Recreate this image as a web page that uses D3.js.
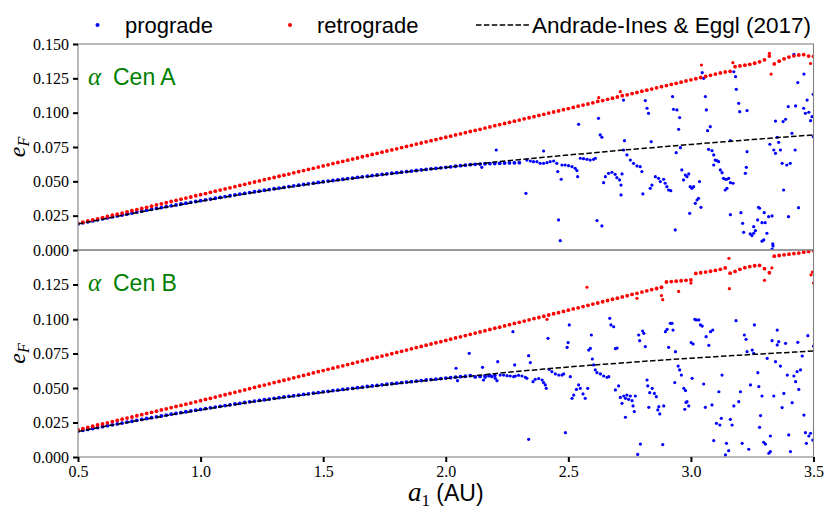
<!DOCTYPE html>
<html lang="en">
  <head>
    <meta charset="UTF-8" />
    <title>forced eccentricity - alpha Cen</title>
    <script src="https://d3js.org/d3.v7.min.js" charset="utf-8"></script>
    <style>
      body { margin: 0; background: #fff; }
      svg { display: block; }
    </style>
  </head>
  <body>
    <svg class="chart"></svg>
    <script>
      // a1 grid of the smooth part of the runs (AU)
      let gridStart = 0.5;
      let gridStep = 0.02;
      let fitStep = 0.1;

      // alpha Cen A, retrograde, on the grid 0.50 .. 3.50
      let retroA = [
        0.0194, 0.0202, 0.0211, 0.0219, 0.0227, 0.0236, 0.0244, 0.0253, 0.0261, 0.0269,
        0.0278, 0.0286, 0.0294, 0.0303, 0.0311, 0.0319, 0.0328, 0.0336, 0.0344, 0.0353,
        0.0361, 0.0370, 0.0378, 0.0386, 0.0395, 0.0403, 0.0411, 0.0420, 0.0428, 0.0436,
        0.0445, 0.0453, 0.0461, 0.0470, 0.0478, 0.0487, 0.0495, 0.0503, 0.0512, 0.0520,
        0.0528, 0.0537, 0.0545, 0.0553, 0.0562, 0.0570, 0.0578, 0.0587, 0.0595, 0.0604,
        0.0612, 0.0620, 0.0629, 0.0637, 0.0645, 0.0654, 0.0662, 0.0670, 0.0679, 0.0687,
        0.0696, 0.0704, 0.0712, 0.0721, 0.0729, 0.0737, 0.0746, 0.0754, 0.0762, 0.0771,
        0.0779, 0.0788, 0.0796, 0.0804, 0.0813, 0.0821, 0.0829, 0.0838, 0.0846, 0.0854,
        0.0863, 0.0871, 0.0879, 0.0888, 0.0896, 0.0905, 0.0913, 0.0921, 0.0930, 0.0938,
        0.0946, 0.0955, 0.0963, 0.0971, 0.0980, 0.0988, 0.0997, 0.1005, 0.1013, 0.1022,
        0.1030, 0.1038, 0.1047, 0.1055, 0.1063, 0.1072, 0.1082, 0.1088, 0.1097, 0.1105,
        0.1114, 0.1124, 0.1130, 0.1139, 0.1147, 0.1156, 0.1164, 0.1172, 0.1181, 0.1189,
        0.1197, 0.1206, 0.1214, 0.1222, 0.1231, 0.1239, 0.1247, 0.1256, 0.1264, 0.1272,
        0.1281, 0.1289, 0.1296, 0.1301, 0.1335, 0.1340, 0.1346, 0.1352, 0.1360, 0.1370,
        0.1385, 0.1412, 0.1355, 0.1375, 0.1392, 0.1405, 0.1414, 0.1420, 0.1422, 0.1412,
        0.1410
      ];
      let retroAExtra = [
        [2.624, 0.1109], [2.712, 0.1153], [3.043, 0.1347], [3.171, 0.1364],
        [3.320, 0.1432], [3.327, 0.1281], [3.488, 0.1358]
      ];

      // alpha Cen A, prograde, smooth part 0.50 .. 2.30
      let progA = [
        0.0190, 0.0198, 0.0205, 0.0212, 0.0220, 0.0227, 0.0234, 0.0241, 0.0248, 0.0255,
        0.0262, 0.0269, 0.0276, 0.0283, 0.0290, 0.0296, 0.0303, 0.0309, 0.0316, 0.0322,
        0.0328, 0.0335, 0.0341, 0.0347, 0.0353, 0.0359, 0.0365, 0.0371, 0.0377, 0.0383,
        0.0389, 0.0395, 0.0401, 0.0407, 0.0412, 0.0418, 0.0424, 0.0429, 0.0435, 0.0440,
        0.0446, 0.0451, 0.0456, 0.0462, 0.0467, 0.0472, 0.0477, 0.0482, 0.0487, 0.0492,
        0.0497, 0.0502, 0.0506, 0.0511, 0.0515, 0.0520, 0.0524, 0.0529, 0.0533, 0.0537,
        0.0542, 0.0546, 0.0550, 0.0555, 0.0559, 0.0563, 0.0567, 0.0571, 0.0575, 0.0579,
        0.0583, 0.0587, 0.0591, 0.0595, 0.0598, 0.0602, 0.0606, 0.0610, 0.0614, 0.0618,
        0.0621, 0.0624, 0.0626, 0.0628, 0.0629, 0.0630, 0.0631, 0.0633, 0.0634, 0.0635,
        0.0636
      ];
      // alpha Cen A, prograde, scattered part [a1, e_F]
      let progAScatter = [
        [2.147,.0602],[2.206,.0728],[2.327,.0413],[2.331,.0655],[2.345,.0648],[2.358,.0643],
        [2.372,.0643],[2.385,.0631],[2.399,.0631],[2.399,.0721],[2.413,.0636],[2.426,.0643],
        [2.440,.0648],[2.453,.0631],[2.457,.0571],[2.471,.0515],[2.460,.0219],[2.467,.0068],
        [2.474,.0619],[2.487,.0619],[2.501,.0614],[2.515,.0607],[2.528,.0595],[2.535,.0578],
        [2.538,.0534],[2.542,.0915],[2.549,.0668],[2.562,.0665],[2.576,.0660],[2.589,.0655],
        [2.603,.0660],[2.610,.0668],[2.617,.0214],[2.623,.0959],[2.630,.0838],[2.637,.0821],
        [2.637,.0175],[2.644,.0490],[2.651,.0534],[2.664,.0558],[2.678,.0566],[2.691,.0551],
        [2.698,.0527],[2.709,.0510],[2.715,.0473],[2.719,.0554],[2.715,.0401],[2.725,.1092],
        [2.729,.0796],[2.725,.0728],[2.739,.0692],[2.753,.0655],[2.766,.0631],[2.780,.0612],
        [2.793,.0607],[2.800,.0571],[2.804,.0408],[2.814,.1088],[2.821,.1032],[2.827,.0995],
        [2.838,.0789],[2.834,.0449],[2.841,.0473],[2.855,.0534],[2.868,.0522],[2.875,.0498],
        [2.889,.0515],[2.895,.0486],[2.902,.0461],[2.909,.0437],[2.918,.0432],[2.925,.1117],
        [2.929,.1024],[2.943,.1020],[2.950,.0879],[2.954,.0964],[2.936,.0146],[2.940,.0709],
        [2.957,.0745],[2.963,.0583],[2.970,.0510],[2.977,.0546],[2.984,.0534],[2.991,.0554],
        [2.997,.0461],[3.004,.0449],[3.011,.0461],[3.018,.0340],[3.025,.0364],[3.031,.0376],
        [3.035,.0498],[3.041,.0311],[2.995,.0267],[3.059,.1117],[3.063,.1020],[3.068,.0869],
        [3.079,.0898],[3.072,.0733],[3.086,.0723],[3.093,.0692],[3.099,.0655],[3.106,.0651],
        [3.113,.0643],[3.093,.0619],[3.120,.0583],[3.127,.0563],[3.133,.0522],[3.140,.0515],
        [3.147,.0515],[3.154,.0522],[3.140,.0437],[3.147,.0449],[3.161,.0490],[3.172,.0486],
        [3.161,.0257],[3.161,.0796],[3.185,.1170],[3.195,.1068],[3.199,.1007],[3.229,.1015],
        [3.204,.0272],[3.211,.0194],[3.215,.0129],[3.222,.0558],[3.226,.0602],[3.229,.0716],
        [3.242,.0117],[3.249,.0105],[3.256,.0122],[3.263,.0141],[3.256,.0170],[3.272,.0219],
        [3.276,.0311],[3.280,.0304],[3.290,.0199],[3.299,.0272],[3.303,.0199],[3.310,.0122],
        [3.317,.0243],[3.331,.0248],[3.297,.0073],[3.334,.0044],[3.322,.0770],[3.338,.0728],
        [3.345,.0704],[3.352,.0821],[3.358,.0784],[3.365,.0728],[3.372,.0631],[3.378,.0437],
        [3.391,.0619],[3.398,.0243],[3.405,.0631],[3.412,.0850],[3.425,.0728],[3.439,.0308],
        [3.345,.0939],[3.376,.0935],[3.386,.0952],[3.397,.1044],[3.427,.1049],[3.436,.1219],
        [3.460,.1032],[3.467,.0995],[3.474,.1092],[3.481,.1003],[3.488,.0942],[3.494,.0971],
        [3.499,.1134],[3.499,.0825],[3.290,.0064],[3.335,.0030],[3.331,.0007],[3.046,.1291],
        [3.052,.1250],[3.175,.1298],[3.182,.1262],[3.420,.1424],[3.461,.1281]
      ];
      // Andrade-Ines & Eggl (2017) curve for alpha Cen A, 0.5 .. 3.5 every 0.1
      let fitA = [
        0.0189, 0.0224, 0.0259, 0.0292, 0.0324, 0.0355, 0.0385, 0.0414, 0.0442, 0.0468,
        0.0493, 0.0516, 0.0538, 0.0560, 0.0581, 0.0601, 0.0621, 0.0640, 0.0658, 0.0675,
        0.0692, 0.0707, 0.0724, 0.0739, 0.0754, 0.0769, 0.0783, 0.0797, 0.0811, 0.0825,
        0.0838
      ];

      // alpha Cen B, retrograde, on the grid 0.50 .. 3.50
      let retroB = [
        0.0198, 0.0206, 0.0215, 0.0223, 0.0232, 0.0240, 0.0248, 0.0257, 0.0265, 0.0274,
        0.0282, 0.0290, 0.0299, 0.0307, 0.0316, 0.0324, 0.0332, 0.0341, 0.0349, 0.0358,
        0.0366, 0.0374, 0.0383, 0.0391, 0.0400, 0.0408, 0.0417, 0.0425, 0.0434, 0.0443,
        0.0451, 0.0460, 0.0469, 0.0478, 0.0486, 0.0495, 0.0504, 0.0513, 0.0521, 0.0530,
        0.0539, 0.0548, 0.0556, 0.0565, 0.0574, 0.0583, 0.0591, 0.0600, 0.0609, 0.0618,
        0.0626, 0.0635, 0.0644, 0.0653, 0.0661, 0.0670, 0.0679, 0.0688, 0.0696, 0.0705,
        0.0714, 0.0723, 0.0731, 0.0740, 0.0749, 0.0758, 0.0766, 0.0775, 0.0784, 0.0793,
        0.0801, 0.0810, 0.0819, 0.0828, 0.0836, 0.0845, 0.0854, 0.0863, 0.0871, 0.0880,
        0.0889, 0.0898, 0.0906, 0.0915, 0.0924, 0.0933, 0.0941, 0.0950, 0.0959, 0.0968,
        0.0976, 0.0985, 0.0994, 0.1003, 0.1011, 0.1020, 0.1029, 0.1038, 0.1046, 0.1055,
        0.1064, 0.1073, 0.1081, 0.1090, 0.1099, 0.1108, 0.1116, 0.1125, 0.1134, 0.1143,
        0.1151, 0.1160, 0.1169, 0.1178, 0.1186, 0.1195, 0.1204, 0.1213, 0.1221, 0.1230,
        0.1268, 0.1271, 0.1274, 0.1277, 0.1280, 0.1283, 0.1330, 0.1335, 0.1340, 0.1346,
        0.1352, 0.1360, 0.1370, 0.1332, 0.1345, 0.1360, 0.1372, 0.1380, 0.1386, 0.1388,
        0.1365, 0.1335, 0.1455, 0.1460, 0.1465, 0.1470, 0.1474, 0.1478, 0.1484, 0.1490,
        0.1496
      ];
      let retroBExtra = [
        [2.413, 0.0998], [2.576, 0.1230], [2.780, 0.1150], [2.880, 0.1170], [2.885, 0.1140],
        [2.950, 0.1200], [3.000, 0.1260], [3.155, 0.1440], [3.157, 0.1220], [3.300, 0.1280],
        [3.330, 0.1370], [3.490, 0.1320], [3.495, 0.1340], [3.500, 0.1260]
      ];

      // alpha Cen B, prograde, smooth part 0.50 .. 2.20
      let progB = [
        0.0186, 0.0193, 0.0200, 0.0206, 0.0213, 0.0220, 0.0227, 0.0233, 0.0240, 0.0246,
        0.0253, 0.0259, 0.0266, 0.0272, 0.0279, 0.0285, 0.0291, 0.0297, 0.0304, 0.0310,
        0.0316, 0.0322, 0.0328, 0.0334, 0.0339, 0.0345, 0.0351, 0.0356, 0.0362, 0.0367,
        0.0373, 0.0378, 0.0384, 0.0389, 0.0395, 0.0400, 0.0405, 0.0410, 0.0415, 0.0420,
        0.0425, 0.0430, 0.0435, 0.0440, 0.0444, 0.0449, 0.0454, 0.0458, 0.0463, 0.0467,
        0.0472, 0.0476, 0.0481, 0.0485, 0.0490, 0.0494, 0.0498, 0.0502, 0.0507, 0.0511,
        0.0515, 0.0519, 0.0523, 0.0527, 0.0531, 0.0535, 0.0539, 0.0543, 0.0546, 0.0550,
        0.0554, 0.0558, 0.0561, 0.0565, 0.0568, 0.0572, 0.0575, 0.0579, 0.0582, 0.0585,
        0.0589, 0.0580, 0.0584, 0.0588, 0.0591, 0.0592
      ];
      let progBScatter = [
        [2.042,.0643],[2.096,.0751],[2.150,.0650],[2.048,.0553],[2.154,.0558],[2.161,.0577],
        [2.175,.0587],[2.188,.0582],[2.202,.0570],[2.209,.0553],[2.212,.0691],[2.222,.0594],
        [2.236,.0594],[2.250,.0589],[2.263,.0587],[2.274,.0908],[2.277,.0582],[2.281,.0667],
        [2.284,.0587],[2.297,.0592],[2.311,.0587],[2.325,.0577],[2.331,.0570],[2.338,.0734],
        [2.345,.0684],[2.338,.0128],[2.356,.0546],[2.365,.0563],[2.379,.0568],[2.393,.0558],
        [2.399,.0539],[2.406,.0522],[2.410,.0498],[2.417,.0860],[2.422,.0635],[2.433,.0618],
        [2.447,.0602],[2.461,.0594],[2.474,.0594],[2.481,.0602],[2.488,.0176],[2.495,.0795],
        [2.499,.0829],[2.504,.0957],[2.508,.0582],[2.515,.0425],[2.522,.0449],[2.533,.0490],
        [2.542,.0522],[2.549,.0498],[2.560,.0457],[2.569,.0425],[2.579,.0498],[2.583,.0775],
        [2.590,.0787],[2.594,.0884],[2.598,.0710],[2.603,.0667],[2.610,.0631],[2.617,.0611],
        [2.631,.0602],[2.644,.0587],[2.658,.0577],[2.665,.0582],[2.669,.1005],[2.674,.0957],
        [2.685,.0944],[2.692,.0785],[2.699,.0790],[2.692,.0486],[2.705,.0515],[2.712,.0432],
        [2.719,.0389],[2.726,.0442],[2.733,.0425],[2.739,.0449],[2.746,.0418],[2.753,.0442],
        [2.760,.0408],[2.764,.0370],[2.773,.0442],[2.769,.0329],[2.733,.0288],[2.783,.0019],
        [2.794,.0094],[2.787,.0884],[2.791,.0843],[2.803,.0913],[2.808,.0896],[2.814,.0800],
        [2.821,.0558],[2.824,.0515],[2.832,.0466],[2.842,.0498],[2.851,.0461],[2.859,.0437],
        [2.828,.0360],[2.865,.0341],[2.873,.0312],[2.869,.0365],[2.889,.0370],[2.885,.0090],
        [2.909,.0795],[2.896,.0908],[2.903,.0925],[2.916,.0969],[2.923,.0969],[2.927,.0920],
        [2.937,.0763],[2.948,.0659],[2.954,.0631],[2.961,.0594],[2.971,.0498],[2.978,.0481],
        [2.984,.0401],[2.991,.0370],[2.975,.0346],[2.980,.0395],[2.934,.0539],[3.005,.0570],
        [3.009,.0819],[3.001,.0829],[3.016,.0998],[3.022,.0993],[3.032,.0993],[3.039,.0957],
        [3.046,.0949],[3.052,.0529],[3.062,.0872],[3.059,.0360],[3.073,.0809],[3.080,.0908],
        [3.089,.0920],[3.086,.0377],[3.114,.0473],[3.127,.0594],[3.104,.0244],[3.118,.0232],
        [3.124,.0280],[3.093,.0119],[3.145,.0099],[3.154,.0046],[3.141,.0015],[3.161,.0273],
        [3.168,.0232],[3.175,.0370],[3.184,.0988],[3.195,.0401],[3.202,.0473],[3.209,.0099],
        [3.218,.0884],[3.229,.0763],[3.225,.0853],[3.236,.0056],[3.243,.0522],[3.250,.0775],
        [3.259,.0957],[3.256,.0751],[3.273,.0611],[3.277,.0510],[3.284,.0300],[3.290,.0442],
        [3.280,.0215],[3.297,.0106],[3.304,.0094],[3.311,.0715],[3.318,.0027],[3.324,.0152],
        [3.331,.0843],[3.324,.0039],[3.338,.0442],[3.345,.0691],[3.352,.0920],[3.358,.0836],
        [3.352,.0812],[3.365,.0659],[3.372,.0358],[3.379,.0461],[3.386,.0824],[3.393,.0594],
        [3.399,.0160],[3.406,.0039],[3.413,.0394],[3.420,.0587],[3.427,.0546],[3.433,.0618],
        [3.440,.0490],[3.436,.0831],[3.447,.0631],[3.454,.0732],[3.461,.0304],[3.467,.0176],
        [3.471,.0099],[3.477,.0879],[3.481,.0152],[3.488,.0172],[3.497,.0123],[3.500,.0804]
      ];
      let fitB = [
        0.0185, 0.0219, 0.0250, 0.0281, 0.0312, 0.0341, 0.0369, 0.0396, 0.0421, 0.0445,
        0.0468, 0.0490, 0.0511, 0.0531, 0.0550, 0.0568, 0.0586, 0.0604, 0.0621, 0.0637,
        0.0652, 0.0666, 0.0679, 0.0692, 0.0704, 0.0716, 0.0727, 0.0738, 0.0748, 0.0758,
        0.0768
      ];

      let xTicks = [0.5, 1.0, 1.5, 2.0, 2.5, 3.0, 3.5];
      let yTicks = [0, 0.025, 0.05, 0.075, 0.1, 0.125, 0.15];

      let blue = "#0000ff";
      let red = "#ff0000";
      let serif = "'Liberation Serif', 'DejaVu Serif', serif";
      let sans = "'Liberation Sans', Arial, sans-serif";

      let width = 830;
      let height = 515;

      let svg = d3.select(".chart").attr("width", width).attr("height", height);

      let x = d3.scaleLinear().domain([0.5, 3.5]).range([78, 813.5]);

      function onGrid(arr, step) {
        return arr.map(function(e, i) {
          return [gridStart + i * step, e];
        });
      }

      let panels = [
        {
          id: "A", top: 44, bottom: 250, label: "Cen A",
          progGrid: onGrid(progA, gridStep), progScatter: progAScatter,
          retroGrid: onGrid(retroA, gridStep), retroScatter: retroAExtra,
          fit: onGrid(fitA, fitStep)
        },
        {
          id: "B", top: 250, bottom: 457, label: "Cen B",
          progGrid: onGrid(progB, gridStep), progScatter: progBScatter,
          retroGrid: onGrid(retroB, gridStep), retroScatter: retroBExtra,
          fit: onGrid(fitB, fitStep)
        }
      ];

      function dots(sel, data, y, r, color) {
        sel.append("g")
          .selectAll("circle")
          .data(data)
          .enter()
          .append("circle")
          .attr("cx", d => x(d[0]))
          .attr("cy", d => y(d[1]))
          .attr("r", r)
          .style("fill", color);
      }

      panels.forEach(function(p, k) {
        let y = d3.scaleLinear().domain([0, 0.15]).range([p.bottom, p.top]);
        let g = svg.append("g");

        g.append("clipPath")
          .attr("id", "clip" + p.id)
          .append("rect")
          .attr("x", x(0.5))
          .attr("y", p.top)
          .attr("width", x(3.5) - x(0.5))
          .attr("height", p.bottom - p.top);

        let plot = g.append("g").attr("clip-path", "url(#clip" + p.id + ")");

        dots(plot, p.progGrid, y, 1.9, blue);
        dots(plot, p.progScatter, y, 1.6, blue);
        dots(plot, p.retroGrid, y, 1.9, red);
        dots(plot, p.retroScatter, y, 1.6, red);

        let line = d3.line()
          .x(d => x(d[0]))
          .y(d => y(d[1]))
          .curve(d3.curveMonotoneX);

        plot.append("path")
          .datum(p.fit)
          .attr("d", line)
          .style("fill", "none")
          .style("stroke", "#000")
          .style("stroke-width", 1.5)
          .style("stroke-dasharray", "5.5 2.4");

        // frame
        g.append("rect")
          .attr("x", x(0.5))
          .attr("y", p.top)
          .attr("width", x(3.5) - x(0.5))
          .attr("height", p.bottom - p.top)
          .style("fill", "none")
          .style("stroke", "#808080")
          .style("stroke-width", 1.1);

        // y axis
        let yAxis = g.append("g")
          .attr("transform", "translate(" + x(0.5) + ",0)")
          .call(
            d3.axisLeft(y)
              .tickValues(k === 0 ? yTicks : yTicks.slice(0, 6))
              .tickFormat(d3.format(".3f"))
              .tickSize(5)
              .tickPadding(4)
          );
        yAxis.select(".domain").remove();
        yAxis.selectAll(".tick line").style("stroke", "#000").style("stroke-width", 2);
        yAxis.selectAll(".tick text")
          .style("font-family", serif)
          .style("font-size", "16px")
          .style("fill", "#000");

        // y label e_F
        let ylab = g.append("text")
          .attr("transform", "translate(25," + (p.top + p.bottom) / 2 + ") rotate(-90)")
          .attr("text-anchor", "middle")
          .style("font-family", serif)
          .style("font-style", "italic");
        ylab.append("tspan").style("font-size", "24px").text("e");
        ylab.append("tspan").style("font-size", "16px").attr("dy", 4).text("F");

        // panel label
        g.append("text")
          .attr("x", 88)
          .attr("y", p.top + 41)
          .style("font-family", serif)
          .style("font-style", "italic")
          .style("font-size", "25px")
          .style("fill", "#008000")
          .text("α");
        g.append("text")
          .attr("x", 113)
          .attr("y", p.top + 41)
          .style("font-family", sans)
          .style("font-size", "23px")
          .style("fill", "#008000")
          .text(p.label);

        if (k === 1) {
          let xAxis = g.append("g")
            .attr("transform", "translate(0," + p.bottom + ")")
            .call(
              d3.axisBottom(x)
                .tickValues(xTicks)
                .tickFormat(d3.format(".1f"))
                .tickSize(5)
                .tickPadding(4)
            );
          xAxis.select(".domain").remove();
          xAxis.selectAll(".tick line").style("stroke", "#000").style("stroke-width", 2);
          xAxis.selectAll(".tick text")
            .style("font-family", serif)
            .style("font-size", "16px")
            .style("fill", "#000");
        }
      });

      // x label
      let xlab = svg.append("text")
        .attr("x", (x(0.5) + x(3.5)) / 2)
        .attr("y", 501)
        .attr("text-anchor", "middle");
      xlab.append("tspan")
        .style("font-family", serif)
        .style("font-style", "italic")
        .style("font-size", "27px")
        .text("a");
      xlab.append("tspan")
        .style("font-family", serif)
        .style("font-size", "17px")
        .attr("dy", 5)
        .text("1");
      xlab.append("tspan")
        .style("font-family", sans)
        .style("font-size", "23px")
        .attr("dy", -5)
        .text(" (AU)");

      // legend
      let legend = svg.append("g");
      legend.append("circle").attr("cx", 97.5).attr("cy", 25).attr("r", 2).style("fill", blue);
      legend.append("text")
        .attr("x", 125).attr("y", 33)
        .style("font-family", sans).style("font-size", "22px")
        .text("prograde");
      legend.append("circle").attr("cx", 290).attr("cy", 25).attr("r", 2).style("fill", red);
      legend.append("text")
        .attr("x", 317).attr("y", 33)
        .style("font-family", sans).style("font-size", "22px")
        .text("retrograde");
      legend.append("line")
        .attr("x1", 476).attr("x2", 530)
        .attr("y1", 25).attr("y2", 25)
        .style("stroke", "#000")
        .style("stroke-width", 1.5)
        .style("stroke-dasharray", "5.5 2.4");
      legend.append("text")
        .attr("x", 811).attr("y", 33)
        .attr("text-anchor", "end")
        .style("font-family", sans).style("font-size", "22.5px")
        .text("Andrade-Ines & Eggl (2017)");
    </script>
  </body>
</html>
